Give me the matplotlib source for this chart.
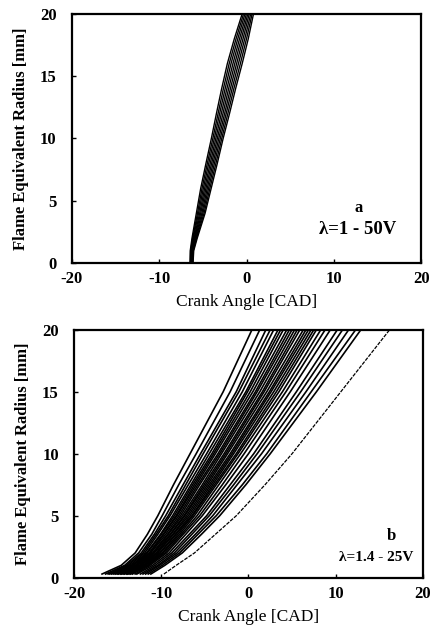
import matplotlib
matplotlib.use("Agg")
import matplotlib.pyplot as plt

plt.rcParams['font.family'] = ['Liberation Serif', 'DejaVu Serif']
plt.rcParams['axes.unicode_minus'] = False

# ---- panel a: lambda = 1, 50 cycles ----
radius_a = [0, 1, 2, 4, 6, 8, 10, 12, 14, 16, 18, 20]
angles_a = [
    [-6.48, -6.45, -6.25, -5.75, -5.25, -4.65, -4.03, -3.45, -2.85, -2.20, -1.40, -0.50],
    [-6.43, -6.40, -6.17, -5.62, -5.10, -4.49, -3.86, -3.26, -2.65, -1.99, -1.20, -0.34],
    [-6.39, -6.35, -6.10, -5.50, -4.95, -4.33, -3.69, -3.08, -2.45, -1.78, -1.00, -0.18],
    [-6.34, -6.30, -6.02, -5.37, -4.80, -4.16, -3.52, -2.89, -2.25, -1.56, -0.80, -0.01],
    [-6.30, -6.25, -5.95, -5.25, -4.65, -4.00, -3.35, -2.70, -2.05, -1.35, -0.60, 0.15],
    [-6.26, -6.20, -5.88, -5.12, -4.50, -3.84, -3.18, -2.51, -1.85, -1.14, -0.40, 0.31],
    [-6.21, -6.15, -5.80, -5.00, -4.35, -3.68, -3.01, -2.33, -1.65, -0.93, -0.20, 0.48],
    [-6.17, -6.10, -5.73, -4.87, -4.20, -3.51, -2.84, -2.14, -1.45, -0.71, 0.00, 0.64],
    [-6.13, -6.05, -5.65, -4.75, -4.05, -3.35, -2.68, -1.95, -1.25, -0.50, 0.20, 0.80],
]

# ---- panel b: lambda = 1.4, 25 cycles ----
radius_b = [0.3, 1, 2, 3.5, 5, 7.5, 10, 15, 20]
angles_b = [
    [-16.8, -14.6, -13.0, -11.6, -10.4, -8.6, -6.7, -2.9, 0.4],
    [-16.4, -14.2, -12.6, -11.1, -9.9, -8.0, -6.0, -2.1, 1.3],
    [-16.1, -14.0, -12.3, -10.8, -9.5, -7.5, -5.5, -1.4, 2.0],
    [-15.9, -13.8, -12.1, -10.6, -9.2, -7.2, -5.2, -1.1, 2.5],
    [-15.7, -13.6, -11.9, -10.4, -9.0, -6.9, -4.8, -0.7, 2.9],
    [-15.5, -13.4, -11.7, -10.1, -8.7, -6.6, -4.5, -0.3, 3.4],
    [-15.3, -13.3, -11.6, -10.0, -8.5, -6.4, -4.2, -0.1, 3.7],
    [-15.2, -13.2, -11.4, -9.8, -8.3, -6.2, -4.0, 0.2, 4.0],
    [-15.0, -13.0, -11.3, -9.7, -8.2, -6.0, -3.8, 0.5, 4.4],
    [-14.9, -12.9, -11.2, -9.5, -8.0, -5.8, -3.5, 0.8, 4.7],
    [-14.7, -12.8, -11.0, -9.3, -7.8, -5.6, -3.3, 1.0, 5.0],
    [-14.6, -12.7, -10.9, -9.2, -7.6, -5.3, -3.1, 1.3, 5.3],
    [-14.5, -12.5, -10.8, -9.0, -7.4, -5.1, -2.8, 1.6, 5.6],
    [-14.3, -12.4, -10.6, -8.9, -7.3, -4.9, -2.6, 1.8, 5.9],
    [-14.2, -12.3, -10.5, -8.7, -7.1, -4.7, -2.4, 2.1, 6.3],
    [-14.0, -12.1, -10.4, -8.6, -6.9, -4.5, -2.1, 2.4, 6.6],
    [-13.9, -12.0, -10.2, -8.4, -6.7, -4.3, -1.9, 2.6, 6.9],
    [-13.8, -11.9, -10.1, -8.3, -6.5, -4.1, -1.7, 2.9, 7.2],
    [-13.6, -11.8, -9.9, -8.1, -6.4, -3.9, -1.4, 3.2, 7.5],
    [-13.5, -11.6, -9.8, -7.9, -6.2, -3.7, -1.2, 3.5, 7.8],
    [-13.3, -11.5, -9.6, -7.7, -5.9, -3.4, -0.9, 3.9, 8.3],
    [-13.0, -11.3, -9.4, -7.5, -5.6, -3.0, -0.5, 4.3, 8.8],
    [-12.8, -11.0, -9.1, -7.2, -5.3, -2.6, 0.0, 4.8, 9.4],
    [-12.4, -10.7, -8.8, -6.8, -4.8, -2.1, 0.6, 5.5, 10.2],
    [-12.1, -10.4, -8.5, -6.5, -4.5, -1.7, 1.0, 6.0, 10.8],
    [-11.8, -10.2, -8.2, -6.1, -4.1, -1.3, 1.5, 6.6, 11.5],
    [-11.5, -9.9, -7.9, -5.8, -3.7, -0.7, 2.1, 7.2, 12.3],
    [-11.2, -9.6, -7.6, -5.4, -3.3, -0.3, 2.5, 7.8, 12.9],
    [-9.7, -8.3, -6.2, -3.8, -1.4, 1.9, 5.0, 10.6, 16.2],
]

x_ticks = [-20, -10, 0, 10, 20]
y_ticks = [0, 5, 10, 15, 20]

fig = plt.figure(figsize=(4.31, 6.28), dpi=100)
ax_a = fig.add_axes([0.167, 0.581, 0.810, 0.397])
ax_b = fig.add_axes([0.172, 0.080, 0.809, 0.395])


def style_axes(ax):
    ax.set_xlim(-20, 20)
    ax.set_ylim(0, 20)
    ax.set_xticks(x_ticks)
    ax.set_yticks(y_ticks)
    ax.tick_params(direction='in', length=3, width=1.0, labelsize=12)
    ax.tick_params(axis='y', pad=11)
    ax.tick_params(axis='x', pad=6)
    for lab in ax.get_xticklabels() + ax.get_yticklabels():
        lab.set_fontweight('bold')
    for sp in ax.spines.values():
        sp.set_linewidth(1.6)
    ax.set_xlabel('Crank Angle [CAD]', fontsize=12.5, labelpad=5)
    ax.set_ylabel('Flame Equivalent Radius [mm]', fontsize=12, fontweight='bold', labelpad=8)


for xs in angles_a:
    ax_a.plot(xs, radius_a, color='black', lw=1.0, solid_capstyle='butt')
style_axes(ax_a)
ax_a.text(0.82, 0.22, 'a', transform=ax_a.transAxes, ha='center', va='center',
          fontsize=12, fontweight='bold')
ax_a.text(0.817, 0.133, 'λ=1 - 50V', transform=ax_a.transAxes, ha='center', va='center',
          fontsize=13.5, fontweight='bold')

for i, xs in enumerate(angles_b):
    if i == len(angles_b) - 1:
        ax_b.plot(xs, radius_b, color='black', lw=0.9, ls=(0, (3, 1)))
    else:
        ax_b.plot(xs, radius_b, color='black', lw=1.2)
style_axes(ax_b)
ax_b.text(0.91, 0.167, 'b', transform=ax_b.transAxes, ha='center', va='center',
          fontsize=12, fontweight='bold')
ax_b.text(0.867, 0.081, 'λ=1.4 - 25V', transform=ax_b.transAxes, ha='center', va='center',
          fontsize=11, fontweight='bold')

fig.savefig('out.png', dpi=100)
